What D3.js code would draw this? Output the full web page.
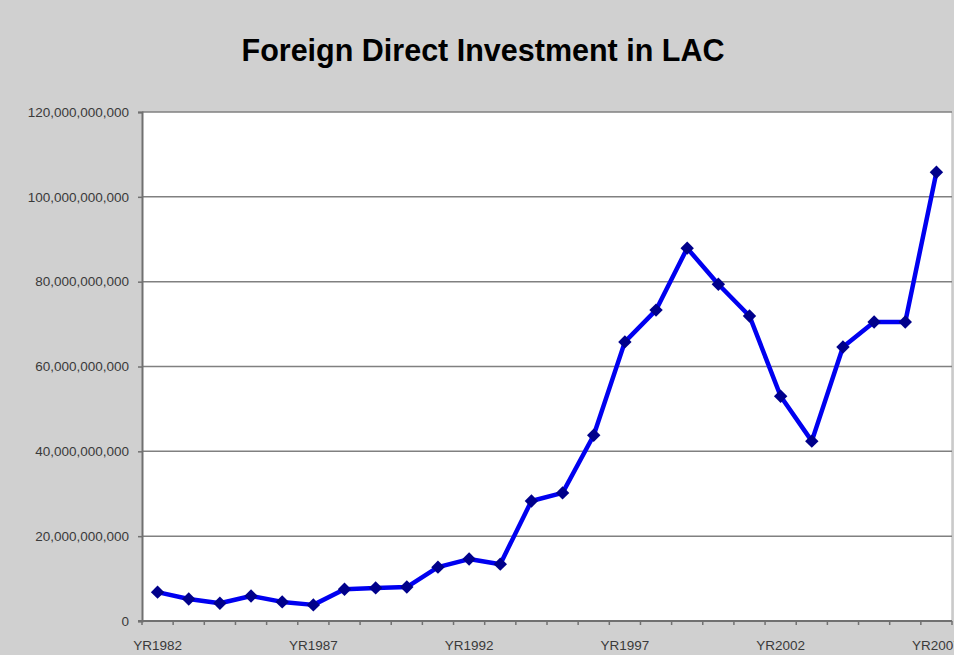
<!DOCTYPE html>
<html>
<head>
<meta charset="utf-8">
<script src="https://cdn.jsdelivr.net/npm/d3@7"></script>
<style>
  html, body { margin: 0; padding: 0; background: #d0d0d0; }
  svg { display: block; }
</style>
</head>
<body>
<div id="chart"></div>
<script>
// yearly FDI inflows, Latin America & Caribbean (US$)
var years = ["YR1982","YR1983","YR1984","YR1985","YR1986","YR1987","YR1988","YR1989",
             "YR1990","YR1991","YR1992","YR1993","YR1994","YR1995","YR1996","YR1997",
             "YR1998","YR1999","YR2000","YR2001","YR2002","YR2003","YR2004","YR2005",
             "YR2006","YR2007"];
var fdi = [6.8e9, 5.2e9, 4.2e9, 5.9e9, 4.5e9, 3.8e9, 7.5e9, 7.8e9,
           8.0e9, 12.7e9, 14.6e9, 13.4e9, 28.3e9, 30.2e9, 43.8e9, 65.8e9,
           73.3e9, 87.9e9, 79.4e9, 71.9e9, 53.0e9, 42.4e9, 64.6e9, 70.5e9,
           70.5e9, 105.8e9];
var xLabels = ["YR1982","YR1987","YR1992","YR1997","YR2002","YR2007"];
var yTicks = [0, 20e9, 40e9, 60e9, 80e9, 100e9, 120e9];

var width = 954, height = 655;
var margin = {top: 112, right: 2, bottom: 34, left: 142};

var svg = d3.select("#chart").append("svg")
  .attr("width", width)
  .attr("height", height);

svg.append("rect")
  .attr("width", width).attr("height", height)
  .attr("fill", "#d0d0d0");

svg.append("text")
  .attr("x", 483)
  .attr("y", 61)
  .attr("text-anchor", "middle")
  .style("font-family", "Liberation Sans, Arial, sans-serif")
  .style("font-weight", "bold")
  .style("font-size", "30.5px")
  .style("fill", "#000")
  .text("Foreign Direct Investment in LAC");

var x = d3.scaleBand()
  .domain(years)
  .range([margin.left, width - margin.right]);

var y = d3.scaleLinear()
  .domain([0, 120e9])
  .range([height - margin.bottom, margin.top]);

// plot area
svg.append("rect")
  .attr("x", margin.left)
  .attr("y", margin.top)
  .attr("width", width - margin.right - margin.left)
  .attr("height", height - margin.bottom - margin.top)
  .attr("fill", "#fff");

// right border
svg.append("line")
  .attr("x1", width - margin.right).attr("x2", width - margin.right)
  .attr("y1", margin.top).attr("y2", height - margin.bottom)
  .attr("stroke", "#c8c8c8").attr("stroke-width", 1.5);

// gridlines
svg.append("g")
  .selectAll("line")
  .data(yTicks.slice(1))
  .enter().append("line")
  .attr("x1", margin.left).attr("x2", width - margin.right)
  .attr("y1", function(d) { return y(d); })
  .attr("y2", function(d) { return y(d); })
  .attr("stroke", "#808080")
  .attr("stroke-width", 1.5);

// y axis
var yAxis = svg.append("g")
  .attr("transform", "translate(" + margin.left + ",0)")
  .call(d3.axisLeft(y).tickValues(yTicks).tickFormat(d3.format(",")).tickSize(4).tickPadding(9));
yAxis.select(".domain").attr("stroke", "#707070").attr("stroke-width", 2);
yAxis.selectAll(".tick line").attr("stroke", "#707070").attr("stroke-width", 1.5);
yAxis.selectAll("text")
  .style("font-family", "Liberation Sans, Arial, sans-serif")
  .style("font-size", "13.5px")
  .style("fill", "#3a3a3a");

// x axis: ticks between categories
var xAxisG = svg.append("g")
  .attr("transform", "translate(0," + y(0) + ")");
var bounds = years.map(function(d) { return x(d); }).concat([x.range()[1]]);
xAxisG.append("line")
  .attr("x1", margin.left - 4).attr("x2", width - margin.right)
  .attr("y1", 0).attr("y2", 0)
  .attr("stroke", "#707070").attr("stroke-width", 2);
xAxisG.selectAll(".tk")
  .data(bounds)
  .enter().append("line")
  .attr("class", "tk")
  .attr("x1", function(d) { return d; }).attr("x2", function(d) { return d; })
  .attr("y1", 0).attr("y2", 4)
  .attr("stroke", "#707070").attr("stroke-width", 1.5);
xAxisG.selectAll(".lbl")
  .data(xLabels)
  .enter().append("text")
  .attr("class", "lbl")
  .attr("x", function(d) { return x(d) + x.bandwidth() / 2; })
  .attr("y", 29)
  .attr("text-anchor", "middle")
  .style("font-family", "Liberation Sans, Arial, sans-serif")
  .style("font-size", "13.5px")
  .style("fill", "#3a3a3a")
  .text(function(d) { return d; });

// series line
var line = d3.line()
  .x(function(d, i) { return x(years[i]) + x.bandwidth() / 2; })
  .y(function(d) { return y(d); });

svg.append("path")
  .datum(fdi)
  .attr("d", line)
  .attr("fill", "none")
  .attr("stroke", "#0000f0")
  .attr("stroke-width", 4.5)
  .attr("stroke-linejoin", "round");

// diamond markers
svg.append("g")
  .selectAll("path")
  .data(fdi)
  .enter().append("path")
  .attr("d", d3.symbol().type(d3.symbolSquare).size(90))
  .attr("transform", function(d, i) {
    return "translate(" + (x(years[i]) + x.bandwidth() / 2) + "," + y(d) + ") rotate(45)";
  })
  .attr("fill", "#00008b");
</script>
</body>
</html>
